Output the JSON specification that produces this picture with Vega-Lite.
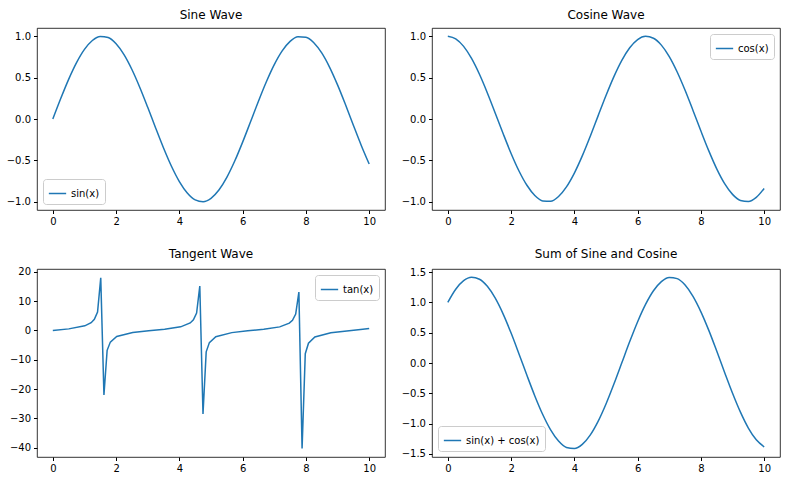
{
  "$schema": "https://vega.github.io/schema/vega-lite/v6.json",
  "padding": {"left": 5, "top": 8, "right": 5, "bottom": 5},
  "datasets": {
    "wave": [
      {"x":0,"sin":0,"cos":1,"sum":1},
      {"x":0.25,"sin":0.2474,"cos":0.9689,"sum":1.2163},
      {"x":0.5,"sin":0.4794,"cos":0.8776,"sum":1.357},
      {"x":0.75,"sin":0.6816,"cos":0.7317,"sum":1.4133},
      {"x":1,"sin":0.8415,"cos":0.5403,"sum":1.3818},
      {"x":1.25,"sin":0.949,"cos":0.3153,"sum":1.2643},
      {"x":1.5,"sin":0.9975,"cos":0.0707,"sum":1.0682},
      {"x":1.75,"sin":0.984,"cos":-0.1782,"sum":0.8058},
      {"x":2,"sin":0.9093,"cos":-0.4161,"sum":0.4932},
      {"x":2.25,"sin":0.7781,"cos":-0.6282,"sum":0.1499},
      {"x":2.5,"sin":0.5985,"cos":-0.8011,"sum":-0.2026},
      {"x":2.75,"sin":0.3817,"cos":-0.9243,"sum":-0.5426},
      {"x":3,"sin":0.1411,"cos":-0.99,"sum":-0.8489},
      {"x":3.25,"sin":-0.1082,"cos":-0.9941,"sum":-1.1023},
      {"x":3.5,"sin":-0.3508,"cos":-0.9365,"sum":-1.2873},
      {"x":3.75,"sin":-0.5716,"cos":-0.8206,"sum":-1.3922},
      {"x":4,"sin":-0.7568,"cos":-0.6536,"sum":-1.4104},
      {"x":4.25,"sin":-0.895,"cos":-0.4461,"sum":-1.3411},
      {"x":4.5,"sin":-0.9775,"cos":-0.2108,"sum":-1.1883},
      {"x":4.75,"sin":-0.9993,"cos":0.0376,"sum":-0.9617},
      {"x":5,"sin":-0.9589,"cos":0.2837,"sum":-0.6752},
      {"x":5.25,"sin":-0.8589,"cos":0.5122,"sum":-0.3467},
      {"x":5.5,"sin":-0.7055,"cos":0.7087,"sum":0.0032},
      {"x":5.75,"sin":-0.5083,"cos":0.8612,"sum":0.3529},
      {"x":6,"sin":-0.2794,"cos":0.9602,"sum":0.6808},
      {"x":6.25,"sin":-0.0332,"cos":0.9994,"sum":0.9662},
      {"x":6.5,"sin":0.2151,"cos":0.9766,"sum":1.1917},
      {"x":6.75,"sin":0.45,"cos":0.893,"sum":1.343},
      {"x":7,"sin":0.657,"cos":0.7539,"sum":1.4109},
      {"x":7.25,"sin":0.8231,"cos":0.5679,"sum":1.391},
      {"x":7.5,"sin":0.938,"cos":0.3466,"sum":1.2846},
      {"x":7.75,"sin":0.9946,"cos":0.1036,"sum":1.0982},
      {"x":8,"sin":0.9894,"cos":-0.1455,"sum":0.8439},
      {"x":8.25,"sin":0.9228,"cos":-0.3853,"sum":0.5375},
      {"x":8.5,"sin":0.7985,"cos":-0.602,"sum":0.1965},
      {"x":8.75,"sin":0.6247,"cos":-0.7808,"sum":-0.1561},
      {"x":9,"sin":0.4121,"cos":-0.9111,"sum":-0.499},
      {"x":9.25,"sin":0.1743,"cos":-0.9847,"sum":-0.8104},
      {"x":9.5,"sin":-0.0752,"cos":-0.9972,"sum":-1.0724},
      {"x":9.75,"sin":-0.3195,"cos":-0.9476,"sum":-1.2671},
      {"x":10,"sin":-0.544,"cos":-0.8391,"sum":-1.3831}
    ],
    "tan": [
      {"x":0,"tan":0},{"x":0.505,"tan":0.5525},{"x":1.01,"tan":1.592},{"x":1.212,"tan":2.665},
      {"x":1.313,"tan":3.795},{"x":1.414,"tan":6.33},{"x":1.515,"tan":17.97},{"x":1.616,"tan":-22.0},
      {"x":1.717,"tan":-6.77},{"x":1.818,"tan":-3.96},{"x":2.02,"tan":-2.07},{"x":2.525,"tan":-0.709},
      {"x":3.03,"tan":-0.112},{"x":3.535,"tan":0.415},{"x":4.04,"tan":1.254},{"x":4.343,"tan":2.58},
      {"x":4.444,"tan":3.64},{"x":4.545,"tan":5.92},{"x":4.646,"tan":15.16},{"x":4.747,"tan":-28.5},
      {"x":4.848,"tan":-7.3},{"x":4.949,"tan":-4.14},{"x":5.152,"tan":-2.13},{"x":5.657,"tan":-0.724},
      {"x":6.162,"tan":-0.122},{"x":6.667,"tan":0.404},{"x":7.172,"tan":1.232},{"x":7.475,"tan":2.51},
      {"x":7.576,"tan":3.5},{"x":7.677,"tan":5.59},{"x":7.778,"tan":13.1},{"x":7.879,"tan":-40.3},
      {"x":7.98,"tan":-7.91},{"x":8.081,"tan":-4.33},{"x":8.283,"tan":-2.19},{"x":8.788,"tan":-0.739},
      {"x":9.293,"tan":-0.133},{"x":9.798,"tan":0.392},{"x":10,"tan":0.648}
    ]
  },
  "vconcat": [
    {"hconcat": [
      {
        "title": "Sine Wave", "width": 348, "height": 182,
        "data": {"name": "wave"},
        "mark": {"type": "line", "strokeWidth": 1.5, "interpolate": "monotone"},
        "encoding": {
          "x": {"field": "x", "type": "quantitative", "scale": {"domain": [-0.5, 10.5], "nice": false}, "axis": {"values": [0,2,4,6,8,10]}},
          "y": {"field": "sin", "type": "quantitative", "scale": {"domain": [-1.1, 1.1], "nice": false}, "axis": {"values": [-1,-0.5,0,0.5,1], "format": ".1f"}},
          "color": {"datum": "sin(x)", "scale": {"range": ["#1f77b4"]}, "legend": {"orient": "bottom-left"}}
        }
      },
      {
        "title": "Cosine Wave", "width": 348, "height": 182,
        "data": {"name": "wave"},
        "mark": {"type": "line", "strokeWidth": 1.5, "interpolate": "monotone"},
        "encoding": {
          "x": {"field": "x", "type": "quantitative", "scale": {"domain": [-0.5, 10.5], "nice": false}, "axis": {"values": [0,2,4,6,8,10]}},
          "y": {"field": "cos", "type": "quantitative", "scale": {"domain": [-1.1, 1.1], "nice": false}, "axis": {"values": [-1,-0.5,0,0.5,1], "format": ".1f"}},
          "color": {"datum": "cos(x)", "scale": {"range": ["#1f77b4"]}, "legend": {"orient": "top-right"}}
        }
      }
    ], "resolve": {"scale": {"color": "independent"}}},
    {"hconcat": [
      {
        "title": "Tangent Wave", "width": 348, "height": 188,
        "data": {"name": "tan"},
        "mark": {"type": "line", "strokeWidth": 1.5},
        "encoding": {
          "x": {"field": "x", "type": "quantitative", "scale": {"domain": [-0.5, 10.5], "nice": false}, "axis": {"values": [0,2,4,6,8,10]}},
          "y": {"field": "tan", "type": "quantitative", "scale": {"domain": [-43.2, 21], "nice": false}, "axis": {"values": [-40,-30,-20,-10,0,10,20]}},
          "color": {"datum": "tan(x)", "scale": {"range": ["#1f77b4"]}, "legend": {"orient": "top-right"}}
        }
      },
      {
        "title": "Sum of Sine and Cosine", "width": 348, "height": 188,
        "data": {"name": "wave"},
        "mark": {"type": "line", "strokeWidth": 1.5, "interpolate": "monotone"},
        "encoding": {
          "x": {"field": "x", "type": "quantitative", "scale": {"domain": [-0.5, 10.5], "nice": false}, "axis": {"values": [0,2,4,6,8,10]}},
          "y": {"field": "sum", "type": "quantitative", "scale": {"domain": [-1.55, 1.55], "nice": false}, "axis": {"values": [-1.5,-1,-0.5,0,0.5,1,1.5], "format": ".1f"}},
          "color": {"datum": "sin(x) + cos(x)", "scale": {"range": ["#1f77b4"]}, "legend": {"orient": "bottom-left"}}
        }
      }
    ], "resolve": {"scale": {"color": "independent"}}}
  ],
  "spacing": 20,
  "resolve": {"scale": {"color": "independent"}},
  "config": {
    "font": "DejaVu Sans",
    "concat": {"spacing": 14},
    "view": {"stroke": "#000000", "strokeWidth": 0.8},
    "title": {"fontSize": 12, "fontWeight": "normal", "color": "#000000", "offset": 6},
    "axis": {"grid": false, "title": null, "domain": false, "tickColor": "#000000", "labelColor": "#000000", "labelFontSize": 10, "tickSize": 3.5, "labelPadding": 3},
    "legend": {"title": null, "labelFontSize": 10, "labelColor": "#000000", "symbolType": "stroke", "symbolSize": 300, "symbolStrokeWidth": 1.5, "strokeColor": "#cccccc", "fillColor": "#ffffff", "padding": 5, "cornerRadius": 3, "offset": 6}
  }
}
